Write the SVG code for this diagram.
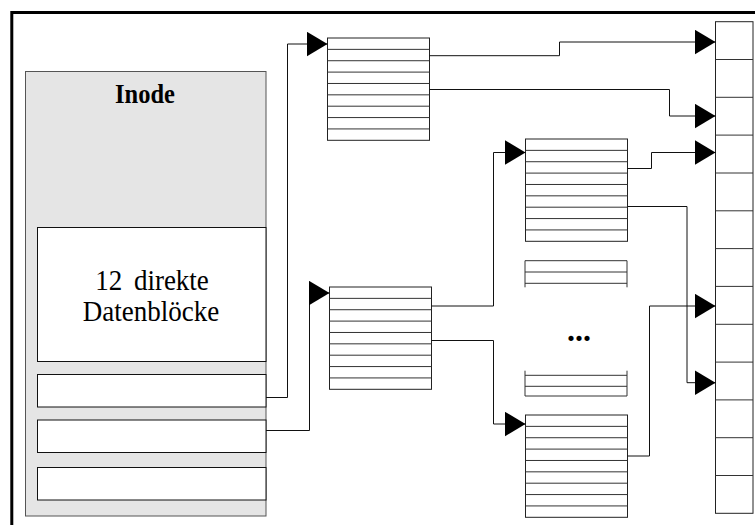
<svg xmlns="http://www.w3.org/2000/svg" xmlns:xlink="http://www.w3.org/1999/xlink" width="755" height="525" viewBox="0 0 755 525">
  <style>
    .frame { fill: none; stroke: #000; stroke-width: 3; }
    .inode { fill: #e5e5e5; stroke: #555; stroke-width: 1; }
    .box { fill: #fff; stroke: #111; stroke-width: 1; }
    .tbl { fill: #fff; stroke: #222; stroke-width: 1; }
    .row { stroke: #333; stroke-width: 1; }
    .edge { fill: none; stroke: #111; stroke-width: 1; }
    .title { font-family: "Liberation Serif", "Times New Roman", serif; font-weight: bold; font-size: 24.5px; fill: #000; }
    .label { font-family: "Liberation Serif", "Times New Roman", serif; font-size: 27px; fill: #000; }
    .dots { font-family: "Liberation Serif", "Times New Roman", serif; font-weight: bold; font-size: 32px; fill: #000; }
  </style>
  <defs>
    <!-- pointer table: 9 entries -->
    <g id="tbl">
      <rect class="tbl" x="0" y="0" width="102" height="102.3"/>
      <path class="row" d="M0,11.37H102M0,22.73H102M0,34.1H102M0,45.47H102M0,56.83H102M0,68.2H102M0,79.57H102M0,90.93H102"/>
    </g>
    <marker id="arr" markerUnits="userSpaceOnUse" viewBox="0 0 21 25" refX="21" refY="12.5" markerWidth="21" markerHeight="25" orient="auto">
      <path d="M0,0L21,12.5L0,25Z" fill="#000"/>
    </marker>
  </defs>

  <rect width="755" height="525" fill="#fff"/>
  <!-- outer frame (continues past the right and bottom edges) -->
  <rect class="frame" x="11.8" y="12.5" width="800" height="600"/>

  <!-- inode -->
  <g id="inode">
    <rect class="inode" x="25.5" y="71.5" width="240.5" height="444.5"/>
    <text class="title" text-anchor="middle" transform="translate(145,103) scale(1,1.1)">Inode</text>
    <rect class="box" x="37.5" y="227.5" width="228.5" height="134"/>
    <text class="label" text-anchor="middle" word-spacing="5" transform="translate(152,290) scale(1,1.1)">12 direkte</text>
    <text class="label" text-anchor="middle" transform="translate(151,321) scale(1,1.1)">Datenblöcke</text>
    <rect class="box" x="37.5" y="374.5" width="228.5" height="32.5"/>
    <rect class="box" x="37.5" y="420" width="228.5" height="32.5"/>
    <rect class="box" x="37.5" y="467.5" width="228.5" height="32.5"/>
  </g>

  <!-- indirect pointer tables -->
  <g id="single-indirect"><use xlink:href="#tbl" x="327.5" y="38"/></g>
  <g id="double-indirect"><use xlink:href="#tbl" x="329.5" y="287"/></g>
  <g id="second-level-top"><use xlink:href="#tbl" x="525.5" y="139"/></g>
  <g id="second-level-bottom"><use xlink:href="#tbl" x="525.5" y="415"/></g>

  <!-- elided second-level tables -->
  <g id="elided">
    <path class="row" d="M525,260.7H627M525,272H627M525,283.3H627M525,375.3H627M525,386.3H627M525,396H627"/>
    <path class="row" stroke="#555" d="M525,260.7V287.3M627,260.7V287.3M525,370.7V396M627,370.7V396"/>
    <text class="dots" text-anchor="middle" x="579" y="341">...</text>
  </g>

  <!-- data blocks -->
  <g id="data-blocks">
    <rect class="tbl" x="715.5" y="21.7" width="37.5" height="491.6"/>
    <path class="row" d="M715.5,59.5H753M715.5,97.3H753M715.5,135.1H753M715.5,173H753M715.5,210.8H753M715.5,248.6H753M715.5,286.4H753M715.5,324.3H753M715.5,362.1H753M715.5,399.9H753M715.5,437.7H753M715.5,475.5H753"/>
  </g>

  <!-- connectors -->
  <g id="connectors">
    <path class="edge" marker-end="url(#arr)" d="M266,397.5H287.5V44H327.5"/>
    <path class="edge" marker-end="url(#arr)" d="M266,430.5H309.5V293H329.5"/>
    <path class="edge" marker-end="url(#arr)" d="M429.5,55.7H559.5V42H715.5"/>
    <path class="edge" marker-end="url(#arr)" d="M429.5,89.5H669.5V116H715.5"/>
    <path class="edge" marker-end="url(#arr)" d="M431.5,306H493.5V152.5H525.5"/>
    <path class="edge" marker-end="url(#arr)" d="M431.5,340.5H493.5V424H525.5"/>
    <path class="edge" marker-end="url(#arr)" d="M627.5,168.5H651.5V152.5H715.5"/>
    <path class="edge" marker-end="url(#arr)" d="M627.5,206.5H687V382.7H715.5"/>
    <path class="edge" marker-end="url(#arr)" d="M627.5,456H649.5V306H715.5"/>
  </g>
</svg>
